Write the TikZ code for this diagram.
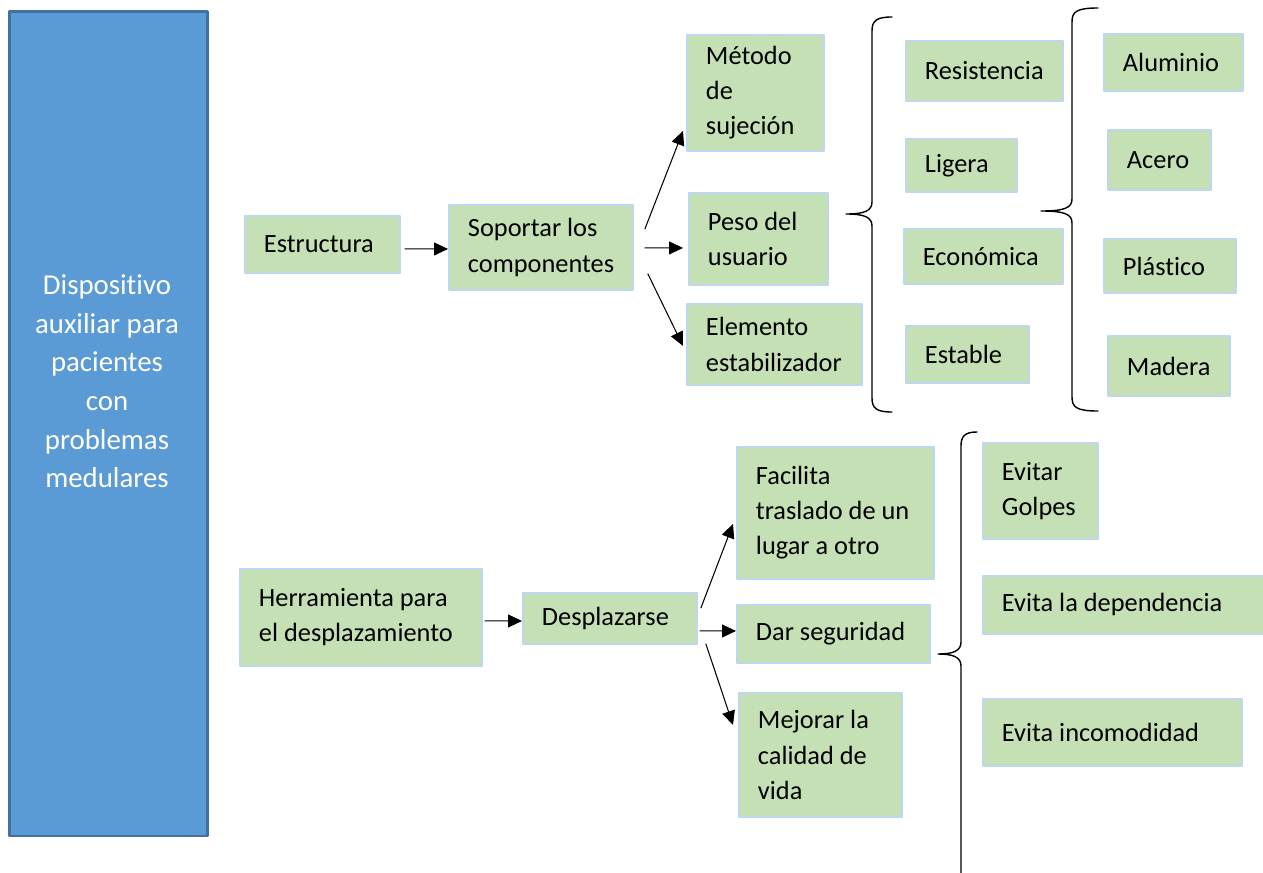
\documentclass[tikz,border=0pt]{standalone}
\usepackage{fontspec}
\setmainfont{Carlito}[Ligatures=NoCommon]
\usetikzlibrary{arrows.meta}
\definecolor{verde}{HTML}{C5E0B4}
\definecolor{bordeverde}{HTML}{BDD7EE}
\definecolor{azul}{HTML}{5B9BD5}
\definecolor{bordeazul}{HTML}{41719C}
% llave: x lomo, x extremos, x punta, y arriba, y punta, y abajo
\newcommand{\llave}[6]{%
  \draw[line width=0.8pt] (#2,#4) .. controls (#1+4,#4) and (#1,#4+4) .. (#1,#4+14)
    -- (#1,#5-12) .. controls (#1,#5-3) and (#1-8,#5) .. (#3,#5)
    .. controls (#1-8,#5) and (#1,#5+3) .. (#1,#5+12)
    -- (#1,#6-14) .. controls (#1,#6-4) and (#1+4,#6) .. (#2,#6);}
\tikzset{
  caja/.style={draw=bordeverde, fill=verde, line width=1.1pt, anchor=north west,
    align=flush left, inner xsep=0.38cm, inner ysep=0pt, font=\fontsize{15}{20}\selectfont},
  flecha/.style={-{Triangle[length=2.8mm,width=2.6mm]}, line width=0.6pt}
}
\begin{document}
\begin{tikzpicture}[x=0.02cm, y=-0.02cm, line join=round, line cap=round]
  \useasboundingbox (0,0) rectangle (1263,872);
  %%%%%%%%%%%%%%%%%%%%%%%%%%%%%%%%%
  \node[draw=bordeazul, fill=azul, line width=1.5pt, anchor=north west,
    minimum width=3.96cm, minimum height=16.5cm] (disp) at (8,10) {};
  \node[text=white, align=center, font=\fontsize{16.4}{22}\selectfont] (disptxt) at (107,381.5)
    {Dispositivo\\auxiliar para\\pacientes\\con\\problemas\\medulares};
  %%%%%%%%%%%%%%%%%%%%%%%%%%%%%%%%%
  \node[caja, text width=2.34cm, minimum height=1.14cm] (estr) at (244,215) {Estructura};
  \node[caja, text width=2.92cm, minimum height=1.70cm] (sop) at (448,204) {Soportar los\\componentes};
  \node[caja, text width=1.98cm, minimum height=2.32cm] (met) at (686,34) {Método\\de\\sujeción};
  \node[caja, text width=2.02cm, minimum height=1.84cm] (peso) at (688,192) {Peso del\\usuario};
  \node[caja, text width=2.74cm, minimum height=1.62cm] (elem) at (686,303) {Elemento\\estabilizador};
  \node[caja, text width=2.38cm, minimum height=1.20cm] (res) at (905,40) {Resistencia};
  \node[caja, text width=1.46cm, minimum height=1.06cm] (lig) at (905,138) {Ligera};
  \node[caja, text width=2.42cm, minimum height=1.10cm] (eco) at (903,228) {Económica};
  \node[caja, text width=1.70cm, minimum height=1.14cm] (est) at (905,325) {Estable};
  \node[caja, text width=2.02cm, minimum height=1.14cm] (alu) at (1103,33) {Aluminio};
  \node[caja, text width=1.30cm, minimum height=1.20cm] (ace) at (1107,129) {Acero};
  \node[caja, text width=1.88cm, minimum height=1.08cm] (pla) at (1103,238) {Plástico};
  \node[caja, text width=1.68cm, minimum height=1.20cm] (mad) at (1107,335) {Madera};
  %%%%%%%%%%%%%%%%%%%%%%%%%%%%%%%%%
  \node[caja, text width=4.08cm, minimum height=1.94cm] (herr) at (239,568) {Herramienta para\\el desplazamiento};
  \node[caja, text width=2.72cm, minimum height=1.02cm] (desp) at (522,592) {Desplazarse};
  \node[caja, text width=3.18cm, minimum height=2.64cm] (fac) at (736,446) {Facilita\\traslado de un\\lugar a otro};
  \node[caja, text width=3.10cm, minimum height=1.16cm] (dar) at (736,604) {Dar seguridad};
  \node[caja, text width=2.50cm, minimum height=2.48cm] (mej) at (738,692) {Mejorar la\\calidad de\\vida};
  \node[caja, text width=1.54cm, minimum height=1.92cm] (gol) at (982,442) {Evitar\\Golpes};
  \node[caja, text width=5.04cm, minimum height=1.16cm] (dep) at (982,575) {Evita la dependencia};
  \node[caja, text width=4.42cm, minimum height=1.34cm] (inc) at (982,698) {Evita incomodidad};
  %%%%%%%%%%%%%%%%%%%%%%%%%%%%%%%%%
  \draw[flecha] ([shift={(4,4.5)}]estr.east) -- ([shift={(0,1.5)}]sop.west);
  \draw[flecha] ([shift={(11,-18.5)}]sop.east) -- ([shift={(-3,38)}]met.west);
  \draw[flecha] ([shift={(11,0.5)}]sop.east) -- ([shift={(-5,9)}]peso.west);
  \draw[flecha] ([shift={(14,26.5)}]sop.east) -- ([shift={(-3,1.5)}]elem.west);
  \draw[flecha] ([shift={(2,3.5)}]herr.east) -- ([shift={(0,2.5)}]desp.west);
  \draw[flecha] ([shift={(3,-10.5)}]desp.east) -- ([shift={(-3,11)}]fac.west);
  \draw[flecha] ([shift={(2,12.5)}]desp.east) -- ([shift={(0,-3)}]dar.west);
  \draw[flecha] ([shift={(8,25.5)}]desp.east) -- ([shift={(-5,-30)}]mej.west);
  %%%%%%%%%%%%%%%%%%%%%%%%%%%%%%%%%
  \llave{872}{892}{846}{17}{214}{412}
  \llave{1072}{1098}{1041}{8}{211}{411}
  \llave{961}{977}{938}{432}{654}{920}
\end{tikzpicture}
\end{document}
